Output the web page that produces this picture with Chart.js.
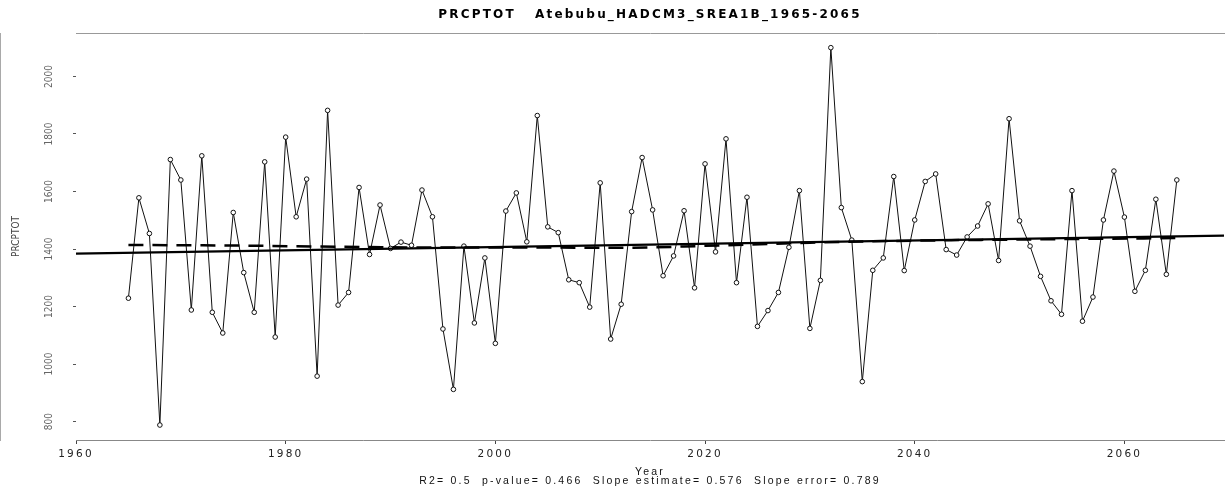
<!DOCTYPE html>
<html>
<head>
<meta charset="utf-8">
<script src="https://cdn.jsdelivr.net/npm/chart.js@4.4.1/dist/chart.umd.min.js"></script>
<style>
  html, body { margin: 0; padding: 0; background: #fff; }
  canvas { display: block; }
</style>
</head>
<body>
<canvas id="prcptotChart" width="1229" height="491"></canvas>
<script>
// annual PRCPTOT, 1965-2065
const firstYear = 1965;
const prcptot = [
  1229, 1578, 1454, 788, 1711, 1640, 1188, 1724, 1180, 1108,
  1527, 1318, 1180, 1703, 1094, 1789, 1512, 1643, 958, 1882,
  1205, 1249, 1614, 1381, 1553, 1402, 1424, 1413, 1605, 1512,
  1122, 912, 1410, 1143, 1369, 1072, 1532, 1595, 1425, 1864,
  1477, 1457, 1293, 1283, 1198, 1630, 1087, 1208, 1530, 1718,
  1536, 1307, 1376, 1533, 1265, 1696, 1390, 1783, 1283, 1580,
  1131, 1186, 1249, 1406, 1603, 1124, 1291, 2100, 1544, 1431,
  939, 1326, 1369, 1652, 1325, 1501, 1635, 1661, 1398, 1379,
  1442, 1480, 1557, 1360, 1853, 1498, 1410, 1305, 1220, 1173,
  1603, 1149, 1233, 1501, 1671, 1511, 1253, 1326, 1573, 1312,
  1640
];
const years = prcptot.map((v, i) => firstYear + i);

// linear fit (solid) and smoothed curve (dashed)
const trendYears = [1960, 2070];
const trendValues = [1384, 1447];
const smoothYears = [1965, 1975, 1985, 1995, 2005, 2012, 2020, 2030, 2040, 2050, 2065];
const smoothValues = [1414, 1412, 1408, 1405, 1405, 1404, 1411, 1422, 1429, 1433, 1438];

const xTicks = [1960, 1980, 2000, 2020, 2040, 2060];
const yTicks = [800, 1000, 1200, 1400, 1600, 1800, 2000];

const titleText = 'PRCPTOT   Atebubu_HADCM3_SREA1B_1965-2065';
const xTitle = ['Year', 'R2= 0.5  p-value= 0.466  Slope estimate= 0.576  Slope error= 0.789'];

const toPoints = (xs, ys) => xs.map((x, i) => ({ x: x, y: ys[i] }));

// wide spacing for the title / x axis text, none for the y tick labels
const spacing = {
  id: 'spacing',
  beforeDraw(chart) { chart.ctx.letterSpacing = '2.2px'; },
  afterDatasetsDraw(chart) { chart.ctx.letterSpacing = '0px'; },
  afterDraw(chart) { chart.ctx.letterSpacing = '0px'; }
};

const ctx = document.getElementById('prcptotChart').getContext('2d');
new Chart(ctx, {
  type: 'line',
  data: {
    datasets: [
      {
        label: 'trend',
        data: toPoints(trendYears, trendValues),
        borderColor: '#000',
        borderWidth: 2.2,
        pointRadius: 0,
        order: 1
      },
      {
        label: 'smooth',
        data: toPoints(smoothYears, smoothValues),
        borderColor: '#000',
        borderWidth: 2.5,
        borderDash: [15, 9],
        cubicInterpolationMode: 'monotone',
        pointRadius: 0,
        order: 2
      },
      {
        label: 'PRCPTOT',
        data: toPoints(years, prcptot),
        borderColor: '#111',
        borderWidth: 1,
        pointRadius: 2.3,
        pointBorderWidth: 1,
        pointBackgroundColor: '#fff',
        pointBorderColor: '#111',
        tension: 0,
        order: 3
      }
    ]
  },
  options: {
    responsive: false,
    animation: false,
    devicePixelRatio: 1,
    layout: { padding: { left: 0, right: 0, top: 0, bottom: 0 } },
    plugins: {
      legend: { display: false },
      tooltip: { enabled: false },
      title: {
        display: true,
        fullSize: false,
        text: titleText,
        color: '#000',
        font: { family: 'DejaVu Sans', size: 12, weight: 'bold' },
        padding: { top: 8, bottom: 10.6 }
      }
    },
    scales: {
      x: {
        type: 'linear',
        min: 1960,
        max: 2069.5,
        afterBuildTicks: (scale) => { scale.ticks = xTicks.map(v => ({ value: v })); },
        afterFit: (scale) => { scale.height = 51; },
        border: { color: '#888', width: 1 },
        grid: { drawOnChartArea: false, drawTicks: true, tickLength: 4, color: '#444' },
        ticks: {
          autoSkip: false,
          maxRotation: 0,
          padding: 4,
          color: '#222',
          font: { family: 'DejaVu Sans', size: 10.5 },
          callback: (v) => String(v)
        },
        title: {
          display: true,
          text: xTitle,
          color: '#111',
          font: { family: 'Liberation Sans', size: 10.5, lineHeight: '9px' },
          padding: { top: 7.2, bottom: 5 }
        }
      },
      xTop: {
        type: 'linear',
        position: 'top',
        min: 1960,
        max: 2069.5,
        afterFit: (scale) => { scale.height = 0; },
        border: { color: '#999', width: 1 },
        grid: { display: false, drawTicks: false },
        ticks: { display: false }
      },
      y: {
        type: 'linear',
        min: 736,
        max: 2151,
        afterBuildTicks: (scale) => { scale.ticks = yTicks.map(v => ({ value: v })); },
        afterFit: (scale) => {
          scale.width = 76;
          scale.paddingTop = 0;
          scale.paddingBottom = 0;
        },
        border: { color: '#555', width: 1 },
        grid: { drawOnChartArea: false, drawTicks: true, tickLength: 3, color: '#555', z: 1 },
        ticks: {
          z: 1,
          minRotation: 90,
          maxRotation: 90,
          crossAlign: 'center',
          padding: 12,
          color: '#666',
          font: { family: "'Liberation Sans Narrow', 'DejaVu Sans Condensed', sans-serif", size: 10 },
          callback: (v) => String(v)
        },
        title: {
          display: true,
          text: 'PRCPTOT',
          color: '#444',
          font: { family: "'Liberation Sans Narrow', 'DejaVu Sans Condensed', sans-serif", size: 10 },
          padding: { top: 10, bottom: 0 }
        }
      }
    }
  },
  plugins: [spacing]
});
</script>
</body>
</html>
